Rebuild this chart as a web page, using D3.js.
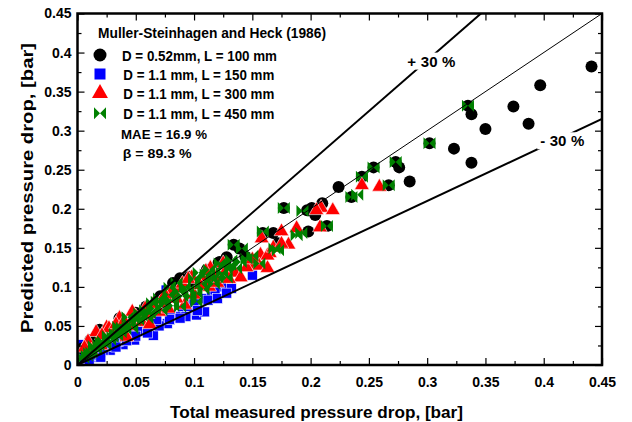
<!DOCTYPE html>
<html>
<head>
<meta charset="utf-8">
<script src="https://cdn.jsdelivr.net/npm/d3@7"></script>
<style>
body { margin: 0; background: #fff; }
svg text { font-family: "Liberation Sans", Arial, sans-serif; font-weight: bold; fill: #000; }
</style>
</head>
<body>
<svg></svg>
<script>
// ticks for both axes
const tickValues = [0, 0.05, 0.1, 0.15, 0.2, 0.25, 0.3, 0.35, 0.4, 0.45]
const minorTicks = [0.025, 0.075, 0.125, 0.175, 0.225, 0.275, 0.325, 0.375, 0.425]

// reference lines: y = slope * x
const refSlopes = [1, 1.3, 0.7]

// [measured, predicted] in bar
const d052L100 = [
  [0.441, 0.382], [0.397, 0.358], [0.374, 0.331], [0.387, 0.309], [0.338, 0.321],
  [0.350, 0.302], [0.323, 0.277], [0.338, 0.259], [0.276, 0.253], [0.285, 0.235],
  [0.224, 0.228], [0.210, 0.207], [0.197, 0.198], [0.204, 0.192], [0.198, 0.171],
  [0.335, 0.332], [0.302, 0.284], [0.273, 0.260], [0.254, 0.253], [0.244, 0.241],
  [0.267, 0.230], [0.235, 0.215], [0.214, 0.178], [0.177, 0.201], [0.201, 0.201],
  [0.168, 0.169], [0.172, 0.156], [0.159, 0.169], [0.139, 0.149], [0.144, 0.139],
  [0.134, 0.154], [0.149, 0.128], [0.122, 0.132], [0.111, 0.122], [0.088, 0.111],
  [0.071, 0.088], [0.059, 0.075], [0.049, 0.064], [0.036, 0.060], [0.019, 0.045],
  [0.011, 0.032], [0.004, 0.021], [0.122, 0.130], [0.100, 0.106], [0.080, 0.095],
  [0.082, 0.105], [0.096, 0.113], [0.121, 0.131], [0.050, 0.067], [0.037, 0.055],
  [0.128, 0.138]
]
const d11L150 = [
  [0.105, 0.068], [0.102, 0.064], [0.077, 0.053], [0.065, 0.038], [0.049, 0.032],
  [0.039, 0.026], [0.028, 0.019], [0.016, 0.015], [0.005, 0.013], [0.125, 0.100],
  [0.132, 0.098], [0.172, 0.154], [0.060, 0.070], [0.090, 0.070], [0.095, 0.075],
  [0.085, 0.062], [0.070, 0.050], [0.058, 0.045], [0.045, 0.040], [0.035, 0.030],
  [0.025, 0.024], [0.012, 0.010], [0.008, 0.006], [0.020, 0.016], [0.110, 0.085],
  [0.115, 0.090], [0.100, 0.080], [0.080, 0.065], [0.040, 0.035], [0.030, 0.026],
  [0.002, 0.018], [0.003, 0.010], [0.052, 0.043], [0.068, 0.058], [0.118, 0.096],
  [0.109, 0.068], [0.103, 0.070], [0.112, 0.083], [0.093, 0.062], [0.088, 0.060],
  [0.079, 0.058], [0.060, 0.041], [0.050, 0.037], [0.042, 0.031], [0.033, 0.023],
  [0.022, 0.019], [0.014, 0.012], [0.006, 0.008], [0.005, 0.022], [0.003, 0.026],
  [0.076, 0.096], [0.120, 0.085], [0.128, 0.092], [0.150, 0.115], [0.020, 0.010],
  [0.010, 0.004]
]
const d11L300 = [
  [0.244, 0.230], [0.259, 0.228], [0.209, 0.201], [0.219, 0.198], [0.208, 0.176],
  [0.205, 0.198], [0.175, 0.171], [0.158, 0.162], [0.188, 0.175], [0.181, 0.154],
  [0.165, 0.143], [0.157, 0.141], [0.148, 0.128], [0.114, 0.124], [0.127, 0.120],
  [0.156, 0.127], [0.163, 0.124], [0.111, 0.113], [0.098, 0.112], [0.113, 0.100],
  [0.092, 0.077], [0.071, 0.079], [0.065, 0.078], [0.047, 0.068], [0.036, 0.060],
  [0.025, 0.048], [0.016, 0.042], [0.009, 0.030], [0.080, 0.092], [0.085, 0.085],
  [0.100, 0.090], [0.105, 0.102], [0.120, 0.105], [0.135, 0.118], [0.140, 0.112],
  [0.145, 0.125], [0.055, 0.055], [0.060, 0.065], [0.045, 0.050], [0.030, 0.040],
  [0.020, 0.025], [0.012, 0.018], [0.070, 0.068], [0.088, 0.098], [0.163, 0.140],
  [0.027, 0.047], [0.021, 0.038], [0.006, 0.022], [0.033, 0.052], [0.040, 0.056],
  [0.050, 0.062], [0.058, 0.072], [0.075, 0.090], [0.090, 0.104], [0.095, 0.110],
  [0.110, 0.120], [0.125, 0.130], [0.130, 0.110], [0.118, 0.112], [0.150, 0.135],
  [0.168, 0.150], [0.175, 0.155], [0.062, 0.052], [0.078, 0.072], [0.042, 0.036]
]
const d11L450 = [
  [0.335, 0.332], [0.302, 0.284], [0.273, 0.260], [0.254, 0.253], [0.244, 0.241],
  [0.267, 0.230], [0.235, 0.215], [0.240, 0.218], [0.214, 0.178], [0.193, 0.197],
  [0.192, 0.169], [0.177, 0.201], [0.159, 0.171], [0.188, 0.166], [0.169, 0.149],
  [0.172, 0.147], [0.134, 0.154], [0.141, 0.149], [0.132, 0.134], [0.156, 0.130],
  [0.122, 0.130], [0.126, 0.126], [0.131, 0.128], [0.113, 0.122], [0.104, 0.118],
  [0.079, 0.099], [0.085, 0.105], [0.095, 0.096], [0.102, 0.092], [0.108, 0.097],
  [0.064, 0.079], [0.068, 0.081], [0.075, 0.078], [0.080, 0.083], [0.043, 0.061],
  [0.049, 0.058], [0.055, 0.063], [0.060, 0.060], [0.035, 0.049], [0.037, 0.042],
  [0.041, 0.046], [0.026, 0.037], [0.030, 0.036], [0.020, 0.029], [0.014, 0.024],
  [0.010, 0.015], [0.005, 0.009], [0.090, 0.088], [0.115, 0.110], [0.120, 0.112],
  [0.008, 0.012], [0.012, 0.016], [0.016, 0.020], [0.018, 0.025], [0.022, 0.030],
  [0.024, 0.026], [0.028, 0.032], [0.032, 0.040], [0.034, 0.038], [0.038, 0.048],
  [0.045, 0.052], [0.047, 0.047], [0.052, 0.058], [0.053, 0.066], [0.058, 0.070],
  [0.062, 0.066], [0.066, 0.072], [0.070, 0.085], [0.072, 0.070], [0.078, 0.090],
  [0.082, 0.076], [0.087, 0.094], [0.092, 0.100], [0.097, 0.088], [0.100, 0.110],
  [0.106, 0.104], [0.110, 0.116], [0.117, 0.104], [0.124, 0.118], [0.128, 0.112],
  [0.136, 0.124], [0.140, 0.132], [0.145, 0.136], [0.150, 0.140], [0.102, 0.081],
  [0.088, 0.075]
]

const legendLabels = ["D = 0.52mm, L = 100 mm", "D = 1.1 mm, L = 150 mm", "D = 1.1 mm, L = 300 mm", "D = 1.1 mm, L = 450 mm"]

const svg = d3.select("svg")
	.attr("width", 632)
	.attr("height", 422)

const pLeft = 77.5, pRight = 602, pTop = 13.5, pBottom = 365

const x = d3.scaleLinear()
	.domain([0, 0.45])
	.range([pLeft, pRight])

const y = d3.scaleLinear()
	.domain([0, 0.45])
	.range([pBottom, pTop])

const fmt = d => String(+d.toFixed(2))

// clip for marks and lines
svg.append("clipPath")
	.attr("id", "plot")
	.append("rect")
	.attr("x", pLeft).attr("y", pTop)
	.attr("width", pRight - pLeft).attr("height", pBottom - pTop)

const bowtie = h => `M${-h},${-h}L0,0L${-h},${h}Z M${h},${-h}L0,0L${h},${h}Z`

const marks = svg.append("g").attr("clip-path", "url(#plot)")

marks.selectAll("rect.sq")
	.data(d11L150)
	.enter()
	.append("rect")
	.attr("class", "sq")
	.attr("x", d => x(d[0]) - 5)
	.attr("y", d => y(d[1]) - 5)
	.attr("width", 10)
	.attr("height", 10)
	.attr("fill", "#0000ff")
	.attr("stroke", "#fff")
	.attr("stroke-width", 0.6)

marks.selectAll("circle")
	.data(d052L100)
	.enter()
	.append("circle")
	.attr("cx", d => x(d[0]))
	.attr("cy", d => y(d[1]))
	.attr("r", 6)
	.attr("fill", "#000")

const tri = d3.symbol().type(d3.symbolTriangle).size(95)

marks.selectAll("path.tri")
	.data(d11L300)
	.enter()
	.append("path")
	.attr("class", "tri")
	.attr("transform", d => `translate(${x(d[0])},${y(d[1])})`)
	.attr("d", tri)
	.attr("fill", "#ff0000")
	.attr("stroke", "#fff")
	.attr("stroke-width", 0.6)

marks.selectAll("path.bow")
	.data(d11L450)
	.enter()
	.append("path")
	.attr("class", "bow")
	.attr("transform", d => `translate(${x(d[0])},${y(d[1])})`)
	.attr("d", bowtie(6))
	.attr("fill", "#008000")

// reference lines
marks.selectAll("line.ref")
	.data(refSlopes)
	.enter()
	.append("line")
	.attr("class", "ref")
	.attr("x1", x(0))
	.attr("y1", y(0))
	.attr("x2", d => x(0.45))
	.attr("y2", d => y(0.45 * d))
	.attr("stroke", "#000")
	.attr("stroke-width", d => d == 1 ? 1 : 2)

// +/- 30 % labels with white background
const refLabels = [
	{ text: "+ 30 %", x: 0.283, y: 0.382 },
	{ text: "- 30 %", x: 0.397, y: 0.280 }
]
refLabels.forEach(l => {
	const t = svg.append("text")
		.attr("x", x(l.x))
		.attr("y", y(l.y))
		.attr("font-size", 15)
		.attr("textLength", l.text[0] == "+" ? 48 : 44)
		.text(l.text)
	const b = t.node().getBBox()
	svg.insert("rect", "text")
		.attr("x", b.x - 3).attr("y", b.y)
		.attr("width", b.width + 6).attr("height", b.height)
		.attr("fill", "#fff")
})

// axes, ticks pointing inward
const addAxis = (axis, tx, ty, labels) => {
	const g = svg.append("g")
		.attr("transform", `translate(${tx},${ty})`)
		.call(axis)
	g.select(".domain").remove()
	g.selectAll("line").attr("stroke", "#000").attr("stroke-width", 1.2)
	if (!labels) g.selectAll("text").remove()
	g.selectAll("text").attr("font-size", 14).attr("font-family", null).attr("fill", "#000")
	return g
}

addAxis(d3.axisBottom(x).tickValues(tickValues).tickFormat(fmt).tickSizeInner(-7).tickSizeOuter(0).tickPadding(12), 0, pBottom, true)
addAxis(d3.axisBottom(x).tickValues(minorTicks).tickSizeInner(-4).tickSizeOuter(0), 0, pBottom, false)
addAxis(d3.axisTop(x).tickValues(tickValues).tickSizeInner(-7).tickSizeOuter(0), 0, pTop, false)
addAxis(d3.axisTop(x).tickValues(minorTicks).tickSizeInner(-4).tickSizeOuter(0), 0, pTop, false)
addAxis(d3.axisLeft(y).tickValues(tickValues).tickFormat(fmt).tickSizeInner(-7).tickSizeOuter(0).tickPadding(6), pLeft, 0, true)
addAxis(d3.axisLeft(y).tickValues(minorTicks).tickSizeInner(-4).tickSizeOuter(0), pLeft, 0, false)
addAxis(d3.axisRight(y).tickValues(tickValues).tickSizeInner(-7).tickSizeOuter(0), pRight, 0, false)
addAxis(d3.axisRight(y).tickValues(minorTicks).tickSizeInner(-4).tickSizeOuter(0), pRight, 0, false)

svg.append("rect")
	.attr("x", pLeft).attr("y", pTop)
	.attr("width", pRight - pLeft).attr("height", pBottom - pTop)
	.attr("fill", "none")
	.attr("stroke", "#000")
	.attr("stroke-width", 2.5)

// axis titles
svg.append("text")
	.attr("x", 170)
	.attr("y", 418)
	.attr("font-size", 16)
	.attr("textLength", 293)
	.attr("lengthAdjust", "spacingAndGlyphs")
	.text("Total measured pressure drop, [bar]")

svg.append("text")
	.attr("transform", `translate(33,333) rotate(-90)`)
	.attr("font-size", 16)
	.attr("textLength", 290)
	.attr("lengthAdjust", "spacingAndGlyphs")
	.text("Predicted pressure drop, [bar]")

// legend
svg.append("text")
	.attr("x", 98)
	.attr("y", 38.3)
	.attr("font-size", 14)
	.attr("textLength", 228)
	.attr("lengthAdjust", "spacingAndGlyphs")
	.text("Muller-Steinhagen and Heck (1986)")

const legendMarks = [
	g => g.append("circle").attr("r", 6.5).attr("fill", "#000"),
	g => g.append("rect").attr("x", -5.5).attr("y", -5.5).attr("width", 11).attr("height", 11).attr("fill", "#0000ff"),
	g => g.append("path").attr("d", d3.symbol().type(d3.symbolTriangle).size(110)).attr("fill", "#ff0000"),
	g => g.append("path").attr("d", bowtie(6)).attr("fill", "#008000")
]
const legendRows = [55, 74, 93.3, 113.3]

legendLabels.forEach((label, i) => {
	const g = svg.append("g").attr("transform", `translate(100,${legendRows[i]})`)
	legendMarks[i](g)
	g.append("text")
		.attr("x", i == 0 ? 22 : 23.3)
		.attr("y", 5.5)
		.attr("font-size", 14)
		.attr("textLength", i == 0 ? 155 : 151)
		.attr("lengthAdjust", "spacingAndGlyphs")
		.text(label)
})

svg.append("text").attr("x", 121).attr("y", 139.3).attr("font-size", 13.5)
	.attr("textLength", 86).attr("lengthAdjust", "spacingAndGlyphs").text("MAE = 16.9 %")
svg.append("text").attr("x", 122.7).attr("y", 158.3).attr("font-size", 13.5)
	.attr("textLength", 69).attr("lengthAdjust", "spacingAndGlyphs").text("β = 89.3 %")
</script>
</body>
</html>
